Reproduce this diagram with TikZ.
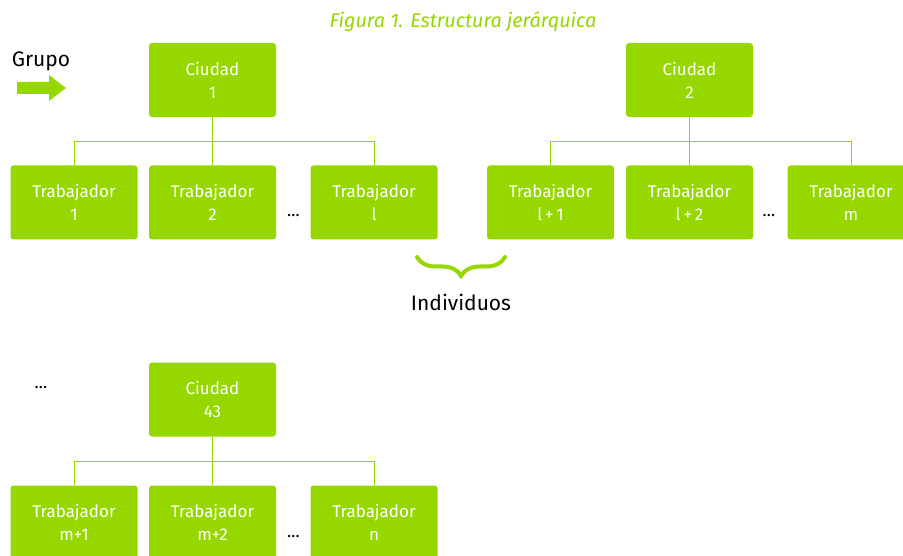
\documentclass[tikz,border=0pt]{standalone}
\usepackage{fontspec}
\setmainfont{Fira Sans}
\usetikzlibrary{decorations.pathreplacing,calc}
\definecolor{lg}{HTML}{97D700}
\begin{document}
\begin{tikzpicture}[x=1pt,y=-1pt,
 box/.style={fill=lg, rounded corners=3pt, minimum width=127pt, minimum height=74pt, text=white, align=center, font=\fontsize{17}{23}\selectfont, inner sep=0pt},
 conn/.style={draw=lg, line width=1pt},
 dots/.style={anchor=base, font=\fontsize{17}{18}\selectfont, inner sep=0pt},
 lbl/.style={font=\fontsize{21}{24}\selectfont, text=black, inner sep=0pt}]
\clip (0,0) rectangle (903,556);
\fill[white] (0,0) rectangle (903,556);
% title
\node[font=\fontsize{19.8}{22}\selectfont\itshape, text=lg] (title) at (463,22) {Figura 1. Estructura jerárquica};
% group label and arrow
\node[lbl] (grupo) at (41,61) {Grupo};
\fill[lg] (17,82) -- (49,82) -- (49,75) -- (66,88) -- (49,101) -- (49,94) -- (17,94) -- cycle;
% city 1
\node[box] (c1) at (212.5,80) {Ciudad\\1};
\node[box] (t1) at (74,202.5) {Trabajador\\1};
\node[box] (t2) at (212.5,202.5) {Trabajador\\2};
\node[box] (t3) at (374,202.5) {Trabajador\\l};
\node[dots] (d1) at (293.5,217) {…};
% city 2
\node[box] (c2) at (689.5,80) {Ciudad\\2};
\node[box] (t4) at (550.5,202.5) {Trabajador\\l\,+\,1};
\node[box] (t5) at (689.5,202.5) {Trabajador\\l\,+\,2};
\node[box] (t6) at (851,202.5) {Trabajador\\m};
\node[dots] (d2) at (769,217) {…};
% city 43
\node[dots] (d3) at (41,388) {…};
\node[box] (c3) at (212.5,399.5) {Ciudad\\43};
\node[box] (t7) at (74,522.5) {Trabajador\\m+1};
\node[box] (t8) at (212.5,522.5) {Trabajador\\m+2};
\node[box] (t9) at (374,522.5) {Trabajador\\n};
\node[dots] (d4) at (293.5,537) {…};
% connectors
\foreach \c/\a/\b/\m in {c1/t1/t3/t2, c2/t4/t6/t5, c3/t7/t9/t8}{
  \coordinate (bus) at ($(\c.south)!0.5!(\m.north)$);
  \draw[conn] (\c.south) -- (\m.north);
  \draw[conn] (\a.north) -- (\a.north |- bus) -- (\b.north |- bus) -- (\b.north);
}
% brace
\coordinate (bl) at (417,257);
\coordinate (br) at (505,257);
\draw[lg, line width=4pt, line cap=round, decorate, decoration={brace, mirror, amplitude=19pt}] (bl) -- (br);
\node[lbl] (ind) at (461,302) {Individuos};
\end{tikzpicture}
\end{document}
